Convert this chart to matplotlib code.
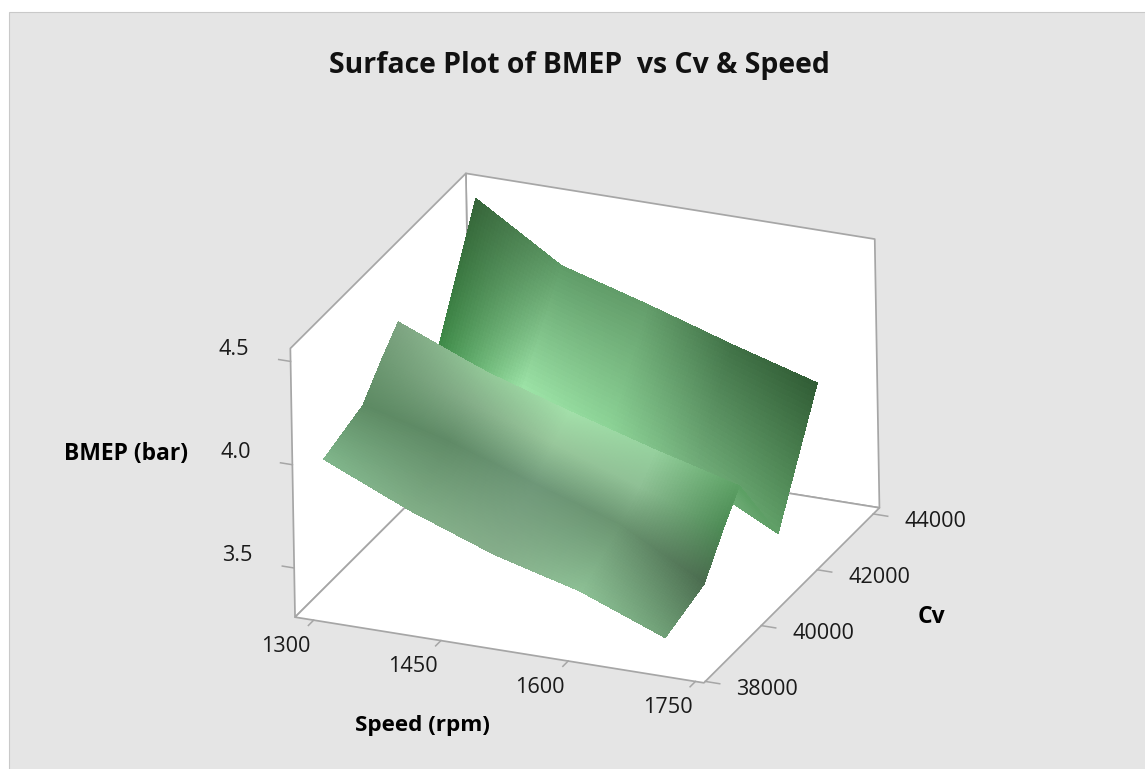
import numpy as np
import matplotlib
matplotlib.use("Agg")
import matplotlib.pyplot as plt
from matplotlib.colors import to_rgb
from matplotlib.patches import Rectangle
from mpl_toolkits.mplot3d import proj3d
from mpl_toolkits.mplot3d.art3d import Poly3DCollection

plt.rcParams["font.family"] = ["Open Sans", "DejaVu Sans"]

# values
speed = [1300, 1400, 1500, 1600, 1700]
cv = [38400, 39800, 40500, 41100, 42430, 43900]
bmep = [
    [3.98, 3.80, 3.65, 3.54, 3.38],
    [4.05, 3.94, 3.80, 3.67, 3.45],
    [4.18, 4.04, 3.90, 3.76, 3.62],
    [4.28, 4.11, 3.98, 3.86, 3.75],
    [3.94, 3.84, 3.70, 3.55, 3.34],
    [4.50, 4.24, 4.12, 3.99, 3.87],
]
# surface colour seen at each node above
shade = [
    ["#7fb58a", "#80ad86", "#85ad8a", "#8cbf94", "#6f9f76"],
    ["#5d8a63", "#5f8a66", "#6e9778", "#6a9470", "#4a6b4e"],
    ["#6f9a74", "#84ad88", "#98c79b", "#8fc095", "#4c8a54"],
    ["#7fa583", "#93c898", "#a3e0aa", "#96d19e", "#5a9e62"],
    ["#3f8c49", "#9ce2a6", "#8dd497", "#74b07c", "#5f9e66"],
    ["#366439", "#5e9a66", "#629b69", "#3f7045", "#2f5a33"],
]
speed_ticks = [1300, 1450, 1600, 1750]
cv_ticks = [38000, 40000, 42000, 44000]
bmep_ticks = [3.5, 4.0, 4.5]

xlim = (1278, 1760)
ylim = (37950, 44220)
zlim = (3.262, 4.563)
LINE = "#a6a6a6"
W, H = 1145, 769


# split every grid cell so the colours blend like a smooth shaded surface
def refine(grid, n=30):
    grid = np.asarray(grid, dtype=float)
    rows = np.linspace(0, grid.shape[0] - 1, (grid.shape[0] - 1) * n + 1)
    cols = np.linspace(0, grid.shape[1] - 1, (grid.shape[1] - 1) * n + 1)
    a = np.array([np.interp(cols, np.arange(grid.shape[1]), r) for r in grid])
    return np.array([np.interp(rows, np.arange(grid.shape[0]), c) for c in a.T]).T


fig = plt.figure(figsize=(W / 100, H / 100), dpi=100, facecolor="white")
fig.add_artist(Rectangle((9 / W, -0.01), 1, 1.01 - 12 / H, transform=fig.transFigure,
                         facecolor="#e5e5e5", edgecolor="#c9c9c9", linewidth=0.8, zorder=-5))

ax = fig.add_axes([2 / W, -54 / H, 1, 1], projection="3d", computed_zorder=False)
ax.patch.set_alpha(0)
ax.view_init(elev=24.5, azim=-66.7, roll=1.0)
ax.set_proj_type("ortho")
ax.set_box_aspect((444.8, 452.4, 296), zoom=0.8819)
ax.set_xlim(*xlim, view_margin=0)
ax.set_ylim(*ylim, view_margin=0)
ax.set_zlim(*zlim, view_margin=0)
ax.set_axis_off()

# white floor and back walls
x0, x1 = xlim
y0, y1 = ylim
z0, z1 = zlim
floor = [(x0, y0, z0), (x1, y0, z0), (x1, y1, z0), (x0, y1, z0)]
left = [(x0, y0, z0), (x0, y1, z0), (x0, y1, z1), (x0, y0, z1)]
back = [(x0, y1, z0), (x1, y1, z0), (x1, y1, z1), (x0, y1, z1)]
ax.add_collection3d(Poly3DCollection([floor, left, back], facecolors="white",
                                     edgecolors=LINE, linewidths=1.25, zorder=1))

# surface
sp_grid = refine(np.tile(speed, (len(cv), 1)))
cv_grid = refine(np.tile(cv, (len(speed), 1)).T)
z_grid = refine(bmep)
rgb = np.array([[to_rgb(c) for c in row] for row in shade])
rgb_fine = np.dstack([refine(rgb[:, :, i]) for i in range(3)])
ax.plot_surface(sp_grid, cv_grid, z_grid, facecolors=rgb_fine, rstride=1, cstride=1,
                shade=False, linewidth=0, antialiased=False, zorder=2)

# ticks and tick labels
M = ax.get_proj()


def tick(p, q, label, dx, dy):
    ax.plot(*zip(p, q), color=LINE, lw=1.1, zorder=3)
    px, py, _ = proj3d.proj_transform(*p, M)
    ax.annotate(label, (px, py), xytext=(dx, dy), textcoords="offset pixels",
                ha="center", va="center", fontsize=15.6, color="#1a1a1a", zorder=4)


for s in speed_ticks:
    tick((s, y0, z0), (s, y0 - 190, z0), str(s), -28, -26)
for c in cv_ticks:
    tick((x1, c, z0), (x1 + 17, c, z0), str(c), 62, -8)
for b in bmep_ticks:
    tick((x0, y0, b), (x0 - 14, y0, b), f"{b:.1f}", -57, 12)

# titles
fig.text(579.5 / W, 1 - 66 / H, "Surface Plot of BMEP  vs Cv & Speed", ha="center", va="center",
         fontsize=20.4, fontweight="bold", color="#111111")
fig.text(125.5 / W, 1 - 454 / H, "BMEP (bar)", ha="center", va="center", fontsize=16.5, fontweight="bold")
fig.text(422.5 / W, 1 - 726 / H, "Speed (rpm)", ha="center", va="center", fontsize=16.2, fontweight="bold")
fig.text(931 / W, 1 - 617 / H, "Cv", ha="center", va="center", fontsize=16.5, fontweight="bold")

fig.savefig("out.png", dpi=100)
